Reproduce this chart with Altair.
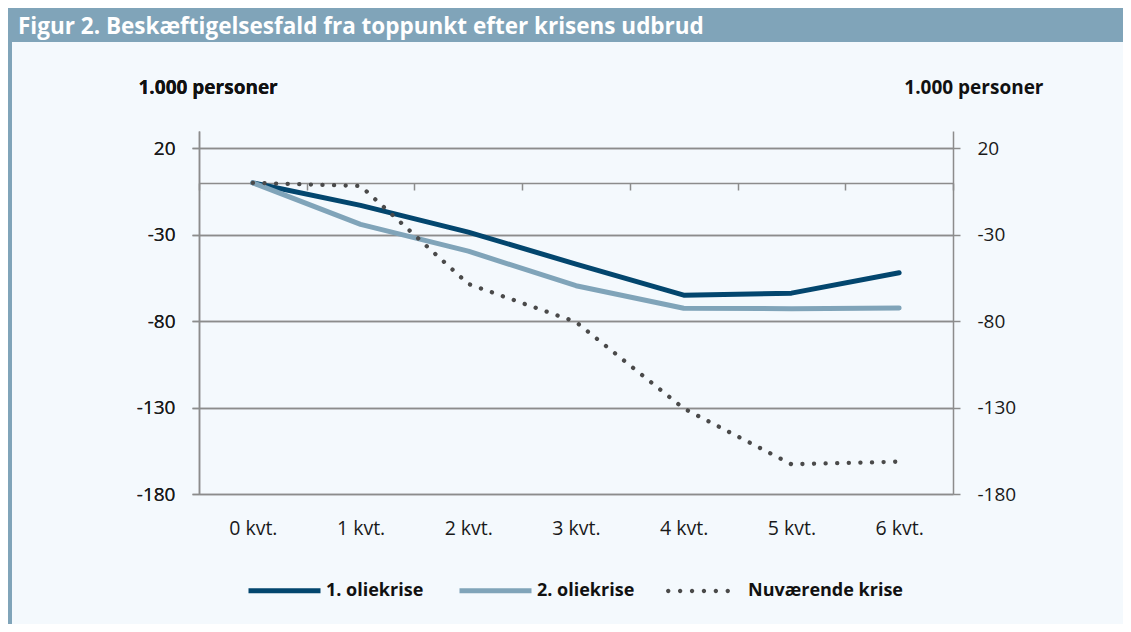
import altair as alt
import pandas as pd

# ---- data ----
kvt = ["0 kvt.", "1 kvt.", "2 kvt.", "3 kvt.", "4 kvt.", "5 kvt.", "6 kvt."]
olie1 = [0, -13, -28.5, -47, -65, -63.8, -52]
olie2 = [0, -24, -39.5, -59.5, -72.5, -72.8, -72.4]
nuv = [0, -1.8, -58.5, -80.5, -130.5, -162.8, -161.3]
series = ["1. oliekrise", "2. oliekrise", "Nuværende krise"]
colors = ["#03466e", "#80a4b9", "#4a4a4a"]
y_ticks = [20, -30, -80, -130, -180]
title_text = "Figur 2. Beskæftigelsesfald fra toppunkt efter krisens udbrud"
y_title = "1.000 personer"

rows = []
for name, vals in zip(series, [olie1, olie2, nuv]):
    for k, v in zip(kvt, vals):
        rows.append({"kvt": k, "value": v, "serie": name})
df = pd.DataFrame(rows)
df_solid = df[df["serie"] != series[2]]
df_dot = df[df["serie"] == series[2]]

FONT = "Open Sans"
GRID = "#8c8c8c"
TXT = "#1a1a1a"
W, H = 754, 363

# legend symbol: six round dots in the [-1, 1] unit box
_r = 0.068
_dots = ""
for k in range(6):
    cx = -0.93 + k * 0.372
    _dots += "M{:.3f},0a{r},{r} 0 1,0 {d},0a{r},{r} 0 1,0 -{d},0".format(cx - _r, r=_r, d=2 * _r)
DOT_SYMBOL = _dots + "Z"

x_enc = alt.X(
    "kvt:N", sort=kvt, bandPosition=0.5,
    scale=alt.Scale(type="band", paddingInner=0, paddingOuter=0),
    axis=alt.Axis(title=None, orient="bottom", offset=-311, tickBand="extent",
                  labelPadding=329, labelAngle=0, domainColor=GRID, domainWidth=1.5,
                  tickColor=GRID, tickWidth=1.5, tickSize=7, labelFont=FONT,
                  labelFontSize=19.5, labelColor=TXT, grid=False))
y_scale = alt.Scale(domain=[-180, 30], nice=False, zero=False)
common = dict(values=y_ticks, domainColor=GRID, domainWidth=1.5, tickColor=GRID,
              tickWidth=1.5, tickSize=7, labelPadding=17, labelFont=FONT,
              labelFontSize=19, labelColor=TXT,
              labelExpr="datum.value < 0 ? '-' + (-datum.value) : '' + datum.value",
              title=y_title, titleAngle=0,
              titleBaseline="alphabetic", titleY=-38, titleFont=FONT,
              titleFontSize=19, titleFontWeight="bold", titleColor="#111111")
left_axis = alt.Axis(orient="left", grid=True, gridColor=GRID, gridWidth=1.5,
                     titleAlign="left", titleX=-61, **common)
right_axis = alt.Axis(orient="right", grid=False, titleAlign="right", titleX=90, **common)

leg_common = dict(title=None, orient="none", direction="horizontal",
                  labelFont=FONT, labelFontSize=18, labelFontWeight="bold",
                  labelColor="#111111")

solid = alt.Chart(df_solid).mark_line(strokeCap="round", strokeJoin="round", strokeWidth=5).encode(
    x=x_enc,
    y=alt.Y("value:Q", scale=y_scale, axis=left_axis),
    color=alt.Color("serie:N", sort=series[:2],
                    scale=alt.Scale(domain=series[:2], range=colors[:2]),
                    legend=alt.Legend(legendX=47, legendY=421, symbolType="stroke",
                                      symbolSize=5184, symbolStrokeWidth=5,
                                      labelOffset=3, columnPadding=25, **leg_common)),
)

dotted = alt.Chart(df_dot).mark_line(strokeCap="round", strokeJoin="round", strokeWidth=4.3,
                                     color=colors[2]).encode(
    x=x_enc,
    y=alt.Y("value:Q", scale=y_scale, axis=left_axis),
    strokeDash=alt.StrokeDash("serie:N", scale=alt.Scale(domain=[series[2]], range=[[0.1, 11.5]]),
                              legend=alt.Legend(legendX=467, legendY=428, symbolType=DOT_SYMBOL,
                                                symbolSize=4096, symbolFillColor=colors[2],
                                                symbolStrokeWidth=0, labelOffset=18,
                                                **leg_common)),
)

right = alt.Chart(df).mark_line(opacity=0).encode(
    x=x_enc,
    y=alt.Y("value:Q", scale=y_scale, axis=right_axis),
    detail="serie:N",
)

band = alt.Chart(pd.DataFrame({"a": [0]})).mark_rect(color="#80a4b9").encode(
    x=alt.value(-191), x2=alt.value(924), y=alt.value(-123), y2=alt.value(-89))
strip = alt.Chart(pd.DataFrame({"a": [0]})).mark_rect(color="#80a4b9").encode(
    x=alt.value(-191), x2=alt.value(-187), y=alt.value(-89), y2=alt.value(493))
title = alt.Chart(pd.DataFrame({"t": [title_text]})).mark_text(
    align="left", baseline="alphabetic", font=FONT, fontSize=22.5, fontWeight="bold",
    color="white").encode(x=alt.value(-181), y=alt.value(-97), text="t:N")

chart = alt.layer(band, strip, title, solid, dotted, right).resolve_axis(
    y="independent"
).resolve_legend(color="independent", strokeDash="independent").properties(
    width=W, height=H,
    padding={"left": 191, "top": 123, "right": 170, "bottom": 130},
    autosize=alt.AutoSizeParams(type="none"),
    background="#f4f9fd",
).configure_view(strokeWidth=0)

chart.save("out.html", embed_options={"renderer": "svg", "actions": False})
